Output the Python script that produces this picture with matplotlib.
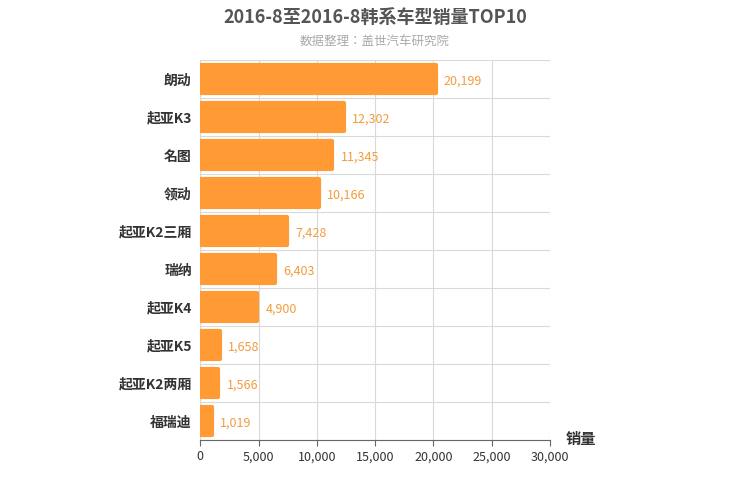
import matplotlib
matplotlib.use("Agg")
import matplotlib.pyplot as plt
from matplotlib import font_manager
import numpy as np

fam = "Noto Sans CJK SC"
for f in font_manager.findSystemFonts():
    if "CJK" in f or "cjk" in f.lower():
        try:
            font_manager.fontManager.addfont(f)
        except Exception:
            pass
names = sorted({f.name for f in font_manager.fontManager.ttflist if "CJK" in f.name})
if names and fam not in names:
    fam = names[0]
plt.rcParams["font.family"] = [fam, "DejaVu Sans"]

categories = ["朗动", "起亚K3", "名图", "领动", "起亚K2三厢", "瑞纳", "起亚K4", "起亚K5", "起亚K2两厢", "福瑞迪"]
values = [20199, 12302, 11345, 10166, 7428, 6403, 4900, 1658, 1566, 1019]
xticks = [0, 5000, 10000, 15000, 20000, 25000, 30000]

color = "#FF9A35"
fig = plt.figure(figsize=(7.5, 5), dpi=100)
ax = fig.add_axes([0.267, 0.12, 0.466, 0.76])
y = np.arange(len(categories))
ax.barh(y, values, height=0.72, color=color, edgecolor=color, linewidth=3, joinstyle="round", zorder=3)
for yi, v in zip(y, values):
    ax.text(v + 700, yi + 0.05, f"{v:,}", va="center", ha="left", fontsize=9, color="#F39C3C", zorder=4)
ax.set_ylim(len(categories) - 0.5, -0.5)
ax.set_xlim(0, 30000)
ax.set_xticks(xticks)
ax.set_xticklabels([f"{t:,}" for t in xticks], fontsize=9, color="#333333")
ax.set_yticks(y)
ax.set_yticklabels(categories, fontsize=10, color="#333333", fontweight="bold")
ax.set_yticks(np.arange(-0.5, len(categories), 1), minor=True)
ax.grid(axis="y", which="minor", color="#D9D9D9", linewidth=0.8, zorder=0)
ax.grid(axis="x", which="major", color="#D9D9D9", linewidth=0.8, zorder=0)
ax.tick_params(axis="y", which="both", length=0, pad=6)
ax.tick_params(axis="x", length=4, color="#666666")
for s in ["top", "right"]:
    ax.spines[s].set_visible(False)
ax.spines["left"].set_color("#D9D9D9")
ax.spines["bottom"].set_color("#666666")
fig.text(0.5, 0.965, "2016-8至2016-8韩系车型销量TOP10", ha="center", va="center", fontsize=13, fontweight="bold", color="#555555")
fig.text(0.5, 0.918, "数据整理：盖世汽车研究院", ha="center", va="center", fontsize=9, color="#AAAAAA")
fig.text(0.775, 0.122, "销量", ha="center", va="center", fontsize=11, fontweight="bold", color="#333333")
fig.savefig("out.png")
